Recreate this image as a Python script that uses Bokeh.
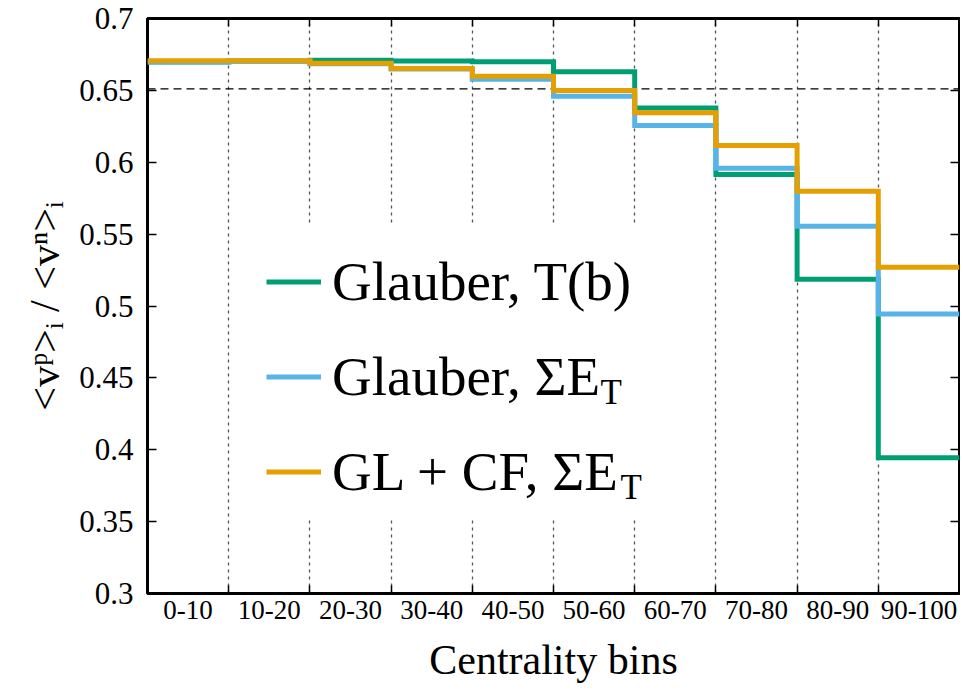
from bokeh.plotting import figure
from bokeh.models import (Range1d, FixedTicker, LinearAxis, Span, Legend, LegendItem,
                          Label, CustomJSTickFormatter, BoxAnnotation)
from bokeh.embed import file_html
from bokeh.resources import INLINE

# ---------------- data ----------------
bins = ["0-10", "10-20", "20-30", "30-40", "40-50", "50-60", "60-70", "70-80", "80-90", "90-100"]
glauber_tb = [0.6700, 0.6705, 0.6710, 0.6705, 0.6700, 0.6630, 0.6378, 0.5915, 0.5186, 0.3944]
glauber_et = [0.6695, 0.6703, 0.6685, 0.6648, 0.6578, 0.6459, 0.6255, 0.5959, 0.5555, 0.4945]
glcf_et = [0.6706, 0.6706, 0.6688, 0.6653, 0.6598, 0.6500, 0.6344, 0.6117, 0.5799, 0.5269]
y_ticks = [0.3, 0.35, 0.4, 0.45, 0.5, 0.55, 0.6, 0.65, 0.7]
y_tick_labels = ["0.3", "0.35", "0.4", "0.45", "0.5", "0.55", "0.6", "0.65", "0.7"]
ref_ratio = 0.651
series_labels = ["Glauber, T(b)", "Glauber, \u03a3E", "GL + CF, \u03a3E"]
series_subscripts = ["", "T", "T"]
colors = ["#009E73", "#56B4E9", "#E69F00"]
y_title = "<v\u1d56>\u1d62 / <v\u207f>\u1d62"
x_title = "Centrality bins"

FONT = "Liberation Serif"
TOP, BOTTOM = 18, 99

edges = list(range(len(bins) + 1))
centers = [i + 0.5 for i in range(len(bins))]

p = figure(width=960, height=692, output_backend="svg", toolbar_location=None,
           x_range=Range1d(0, len(bins)), y_range=Range1d(y_ticks[0], y_ticks[-1]),
           min_border_left=147, min_border_right=1, min_border_top=TOP, min_border_bottom=BOTTOM)
p.outline_line_color = "black"
p.outline_line_width = 3
p.background_fill_color = "white"
p.border_fill_color = "white"

# grid
p.ygrid.visible = False
p.xgrid.ticker = FixedTicker(ticks=edges[1:-1])
p.xgrid.grid_line_color = "#555555"
p.xgrid.grid_line_dash = "3 4"
p.xgrid.grid_line_width = 1.3

# bottom axis
xa = p.xaxis[0]
xa.ticker = FixedTicker(ticks=centers, minor_ticks=edges[1:-1])
xa.formatter = CustomJSTickFormatter(args=dict(binlabels=bins),
                                     code="return binlabels[Math.floor(tick)];")
xa.major_tick_line_color = None
xa.major_tick_in = 0
xa.major_tick_out = 0
xa.minor_tick_in = 8
xa.minor_tick_out = 0
xa.minor_tick_line_color = "black"
xa.minor_tick_line_width = 1.5
xa.axis_line_color = None
xa.major_label_text_font = FONT
xa.major_label_text_font_size = "27px"
xa.major_label_text_color = "black"
xa.major_label_standoff = 7
xa.axis_label = x_title
xa.axis_label_text_font = FONT
xa.axis_label_text_font_size = "42px"
xa.axis_label_text_font_style = "normal"
xa.axis_label_text_color = "black"
xa.axis_label_standoff = 15

# left axis
ya = p.yaxis[0]
ya.ticker = FixedTicker(ticks=y_ticks)
ya.formatter = CustomJSTickFormatter(args=dict(yvals=y_ticks, ylabs=y_tick_labels), code="""
let best = 0;
for (let k = 0; k < yvals.length; k++) {
  if (Math.abs(yvals[k] - tick) < Math.abs(yvals[best] - tick)) best = k;
}
return ylabs[best];
""")
ya.major_tick_in = 9
ya.major_tick_out = 0
ya.major_tick_line_width = 1.5
ya.major_tick_line_color = "black"
ya.minor_tick_line_color = None
ya.axis_line_color = None
ya.major_label_text_font = FONT
ya.major_label_text_font_size = "31px"
ya.major_label_text_color = "black"
ya.major_label_standoff = 14
ya.axis_label = y_title
ya.axis_label_text_font = FONT
ya.axis_label_text_font_size = "42px"
ya.axis_label_text_font_style = "normal"
ya.axis_label_text_color = "black"
ya.axis_label_standoff = 8

# mirrored axes (ticks only)
blank = CustomJSTickFormatter(code="return '';")
ra = LinearAxis(ticker=FixedTicker(ticks=y_ticks), formatter=blank, major_label_text_font_size="1px",
                major_label_standoff=0, major_tick_in=9, major_tick_out=0,
                major_tick_line_width=1.5, minor_tick_line_color=None, axis_line_color=None)
p.add_layout(ra, "right")
ta = LinearAxis(ticker=FixedTicker(ticks=[], minor_ticks=edges[1:-1]), formatter=blank,
                major_label_text_font_size="1px", major_label_standoff=0, major_tick_line_color=None,
                minor_tick_in=8, minor_tick_out=0, minor_tick_line_width=1.5,
                minor_tick_line_color="black", axis_line_color=None)
p.add_layout(ta, "above")

# reference line
p.add_layout(Span(location=ref_ratio, dimension="width", line_color="black", line_width=1.3,
                  line_dash="8 5", level="underlay"))

# white area behind the legend (hides the grid there)
p.add_layout(BoxAnnotation(left=113, right=540, bottom=74, top=368,
                           left_units="screen", right_units="screen",
                           bottom_units="screen", top_units="screen",
                           fill_color="white", fill_alpha=1.0, line_color=None, level="underlay"))

# step lines
renderers = []
for vals, col in zip([glauber_tb, glauber_et, glcf_et], colors):
    r = p.step(x=edges, y=vals + [vals[-1]], mode="after", line_width=5, line_color=col,
               line_join="miter")
    renderers.append(r)

legend = Legend(items=[LegendItem(label=lab, renderers=[r]) for lab, r in zip(series_labels, renderers)],
                location=(119, 74), orientation="vertical", glyph_width=55, glyph_height=95,
                label_height=95, label_width=330, label_standoff=11, padding=4, spacing=0, margin=0,
                background_fill_alpha=0.0, border_line_color=None,
                label_text_font=FONT, label_text_font_size="55px", label_text_color="black")
p.add_layout(legend)

# subscripts of the legend entries
sub_pos = [(453, 201.5), (453, 201.5), (473, 106.5)]
for (sx, sy), sub in zip(sub_pos, series_subscripts):
    if sub:
        p.add_layout(Label(x=sx, y=sy, x_units="screen", y_units="screen", text=sub,
                           text_font=FONT, text_font_size="35px", text_baseline="middle",
                           text_align="left", text_color="black"))

open("out.html", "w").write(file_html(p, INLINE))
